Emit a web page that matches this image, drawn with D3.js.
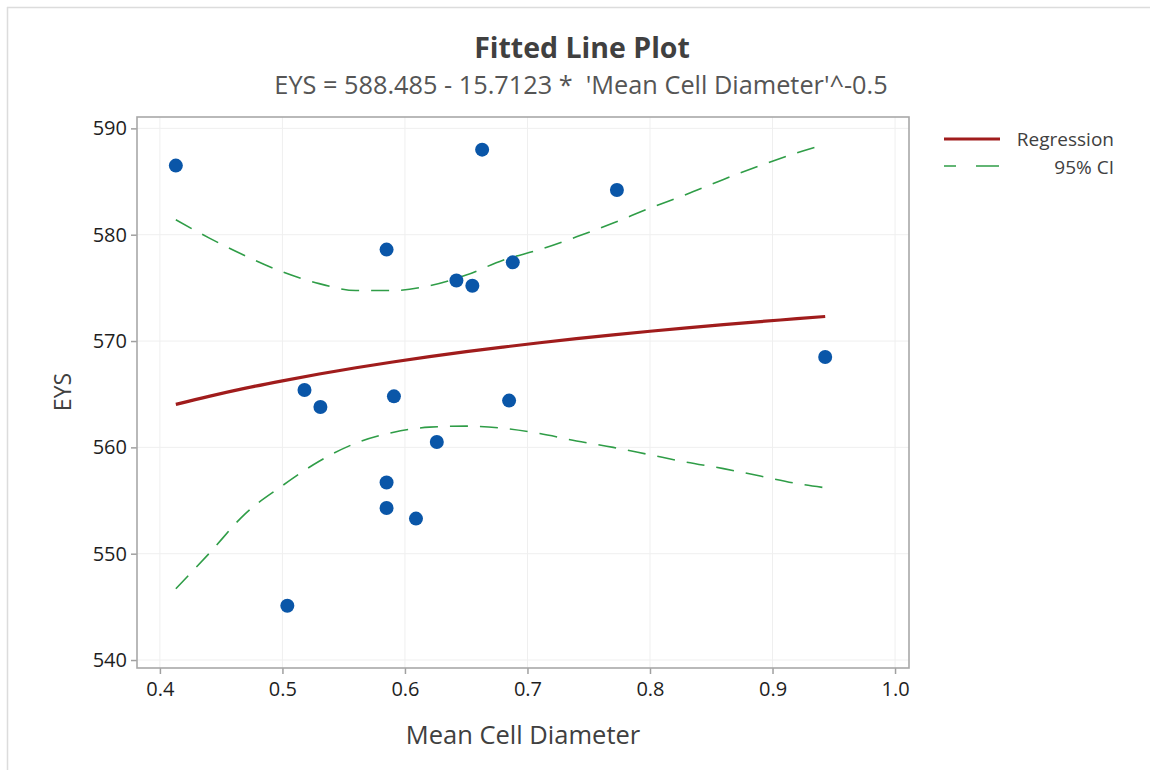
<!DOCTYPE html>
<html lang="en">
<head>
<meta charset="UTF-8" />
<script src="https://d3js.org/d3.v7.min.js"></script>
<style>
  html, body { margin: 0; padding: 0; background: #fff; }
  svg { display: block; font-family: "Open Sans", "Noto Sans", sans-serif; }
  .tick text { font-size: 20px; fill: #1e1e1e; }
</style>
</head>
<body>
<svg id="chart" width="1150" height="770"></svg>
<script>
// observed points (Mean Cell Diameter, EYS)
var cellDiam = [0.413, 0.504, 0.518, 0.531, 0.591, 0.626, 0.585, 0.585, 0.609, 0.642, 0.655, 0.585, 0.663, 0.773, 0.688, 0.943, 0.685];
var eys      = [586.5, 545.1, 565.4, 563.8, 564.8, 560.5, 556.7, 554.3, 553.3, 575.7, 575.2, 578.6, 588.0, 584.2, 577.4, 568.5, 564.4];

// fitted line and 95% CI
var fitX    = [0.413, 0.44, 0.47, 0.5, 0.53, 0.56, 0.59, 0.62, 0.65, 0.68, 0.71, 0.74, 0.77, 0.80, 0.83, 0.86, 0.89, 0.92, 0.943];
var fitY    = [564.04, 564.80, 565.57, 566.26, 566.90, 567.49, 568.03, 568.53, 569.00, 569.43, 569.84, 570.22, 570.58, 570.92, 571.24, 571.54, 571.83, 572.10, 572.31];
var ciUpper = [581.4, 579.7, 578.0, 576.5, 575.4, 574.75, 574.75, 575.2, 576.2, 577.6, 578.6, 579.8, 581.1, 582.5, 583.8, 585.2, 586.5, 587.7, 588.5];
var ciLower = [546.7, 550.0, 553.8, 556.4, 558.7, 560.4, 561.4, 561.9, 562.0, 561.8, 561.3, 560.6, 560.0, 559.3, 558.6, 558.0, 557.3, 556.6, 556.2];

var xTicks = [0.4, 0.5, 0.6, 0.7, 0.8, 0.9, 1.0];
var yTicks = [540, 550, 560, 570, 580, 590];

var svg = d3.select("#chart");

// panel border (top + left only)
svg.append("line").attr("x1", 7).attr("y1", 7.5).attr("x2", 1150).attr("y2", 7.5)
  .attr("stroke", "#dcdcdc").attr("stroke-width", 1.5);
svg.append("line").attr("x1", 7.5).attr("y1", 7).attr("x2", 7.5).attr("y2", 770)
  .attr("stroke", "#dcdcdc").attr("stroke-width", 1.5);

var plot = {left: 137, right: 909, top: 117, bottom: 668};

var x = d3.scaleLinear().domain([0.3813, 1.0114]).range([plot.left, plot.right]);
var y = d3.scaleLinear().domain([539.25, 591.07]).range([plot.bottom, plot.top]);

// gridlines
svg.append("g").selectAll("line").data(xTicks).join("line")
  .attr("x1", d => x(d)).attr("x2", d => x(d))
  .attr("y1", plot.top).attr("y2", plot.bottom)
  .attr("stroke", "#efefef").attr("stroke-width", 1);
svg.append("g").selectAll("line").data(yTicks).join("line")
  .attr("x1", plot.left).attr("x2", plot.right)
  .attr("y1", d => y(d)).attr("y2", d => y(d))
  .attr("stroke", "#efefef").attr("stroke-width", 1);

// axes
var xAxis = svg.append("g")
  .attr("transform", "translate(0," + plot.bottom + ")")
  .call(d3.axisBottom(x).tickValues(xTicks).tickFormat(d3.format(".1f")).tickSize(6).tickSizeOuter(0));
var yAxis = svg.append("g")
  .attr("transform", "translate(" + plot.left + ",0)")
  .call(d3.axisLeft(y).tickValues(yTicks).tickSize(6).tickSizeOuter(0));

[xAxis, yAxis].forEach(function(a) {
  a.select(".domain").remove();
  a.attr("font-family", null).attr("font-size", 20);
  a.selectAll(".tick line").attr("stroke", "#a0a0a0").attr("stroke-width", 1.5);
});
xAxis.selectAll(".tick text").attr("dy", "0.95em");
yAxis.selectAll(".tick text").attr("dx", "-0.05em");

// plot frame
svg.append("rect")
  .attr("x", plot.left).attr("y", plot.top)
  .attr("width", plot.right - plot.left).attr("height", plot.bottom - plot.top)
  .attr("fill", "none").attr("stroke", "#a8a8a8").attr("stroke-width", 1.6);

// CI curves
var ciLine = function(vals) {
  return d3.line()
    .x((d, i) => x(fitX[i]))
    .y(d => y(d))
    .curve(d3.curveMonotoneX)(vals);
};
[ciUpper, ciLower].forEach(function(vals) {
  svg.append("path")
    .attr("d", ciLine(vals))
    .attr("fill", "none")
    .attr("stroke", "#2f9d47")
    .attr("stroke-width", 1.6)
    .attr("stroke-dasharray", "18,12");
});

// regression line
svg.append("path")
  .attr("d", ciLine(fitY))
  .attr("fill", "none")
  .attr("stroke", "#a01c1c")
  .attr("stroke-width", 3.2);

// points
svg.append("g").selectAll("circle").data(cellDiam).join("circle")
  .attr("cx", d => x(d))
  .attr("cy", (d, i) => y(eys[i]))
  .attr("r", 7)
  .attr("fill", "#0a56a8");

// titles
svg.append("text").attr("x", 582).attr("y", 58).attr("text-anchor", "middle")
  .attr("fill", "#404040").style("font-size", "28.5px").style("font-weight", "bold")
  .text("Fitted Line Plot");
svg.append("text").attr("x", 581).attr("y", 94).attr("text-anchor", "middle")
  .attr("fill", "#555").style("font-size", "25.3px")
  .attr("xml:space", "preserve")
  .text("EYS = 588.485 - 15.7123 *  'Mean Cell Diameter'^-0.5");

svg.append("text").attr("x", 523).attr("y", 744).attr("text-anchor", "middle")
  .attr("fill", "#404040").style("font-size", "25.5px")
  .text("Mean Cell Diameter");
svg.append("text")
  .attr("transform", "translate(71,392) rotate(-90)")
  .attr("text-anchor", "middle")
  .attr("fill", "#404040").style("font-size", "23px")
  .text("EYS");

// legend
var legend = svg.append("g");
legend.append("line").attr("x1", 944).attr("x2", 1000).attr("y1", 139).attr("y2", 139)
  .attr("stroke", "#a01c1c").attr("stroke-width", 3.2);
legend.append("line").attr("x1", 944).attr("x2", 999).attr("y1", 166).attr("y2", 166)
  .attr("stroke", "#2f9d47").attr("stroke-width", 1.6).attr("stroke-dasharray", "12,20,23");
legend.append("text").attr("x", 1114).attr("y", 146).attr("text-anchor", "end")
  .attr("fill", "#404040").style("font-size", "19px").text("Regression");
legend.append("text").attr("x", 1114).attr("y", 174).attr("text-anchor", "end")
  .attr("fill", "#404040").style("font-size", "19px").text("95% CI");
</script>
</body>
</html>
